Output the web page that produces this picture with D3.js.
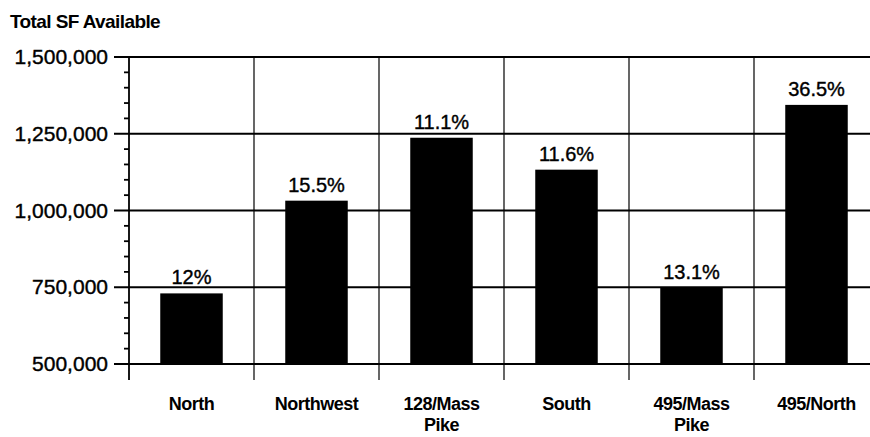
<!DOCTYPE html>
<meta charset="utf-8">
<style>
  body { margin: 0; background: #fff; }
  text { font-family: "Liberation Sans Narrow", "Liberation Sans", Arial, sans-serif; fill: #000; }
</style>
<svg width="870" height="437"></svg>
<script src="https://d3js.org/d3.v7.min.js"></script>
<script>

var regions = ['North', 'Northwest', '128/Mass Pike', 'South', '495/Mass Pike', '495/North'];
var sfAvailable = [730000, 1032000, 1237000, 1133000, 748000, 1344000];
var pctLabels = ['12%', '15.5%', '11.1%', '11.6%', '13.1%', '36.5%'];
var yTicks = [500000, 750000, 1000000, 1250000, 1500000];

var svg = d3.select("svg");

var plotLeft = 129, plotTop = 57, plotBottom = 364, band = 125;

var x = d3.scaleBand()
    .domain(regions)
    .range([plotLeft, plotLeft + band * regions.length])
    .paddingInner(0.5)
    .paddingOuter(0.25);

var y = d3.scaleLinear()
    .domain([500000, 1500000])
    .range([plotBottom, plotTop]);

// horizontal grid
svg.append("g")
  .selectAll("line")
  .data(yTicks)
  .enter().append("line")
  .attr("x1", plotLeft - 15)
  .attr("x2", 870)
  .attr("y1", d => y(d))
  .attr("y2", d => y(d))
  .attr("stroke", "#000")
  .attr("stroke-width", 1.8);

// minor ticks
svg.append("g")
  .selectAll("line")
  .data(d3.range(550000, 1500000, 50000).filter(d => d % 250000 != 0))
  .enter().append("line")
  .attr("x1", plotLeft - 5)
  .attr("x2", plotLeft)
  .attr("y1", d => y(d))
  .attr("y2", d => y(d))
  .attr("stroke", "#000")
  .attr("stroke-width", 1.8);

// vertical band dividers
svg.append("g")
  .selectAll("line")
  .data(d3.range(regions.length + 1))
  .enter().append("line")
  .attr("x1", i => plotLeft + i * band)
  .attr("x2", i => plotLeft + i * band)
  .attr("y1", plotTop)
  .attr("y2", plotBottom + 16)
  .attr("stroke", "#000")
  .attr("stroke-width", i => i == 0 ? 1.8 : 1.2);

// bars
svg.append("g")
  .selectAll("rect")
  .data(regions)
  .enter().append("rect")
  .attr("x", d => x(d))
  .attr("width", x.bandwidth())
  .attr("y", (d, i) => y(sfAvailable[i]))
  .attr("height", (d, i) => plotBottom - y(sfAvailable[i]))
  .attr("fill", "#000");

// value labels
svg.append("g")
  .selectAll("text")
  .data(regions)
  .enter().append("text")
  .attr("x", d => x(d) + x.bandwidth() / 2)
  .attr("y", (d, i) => y(sfAvailable[i]) - 9)
  .attr("text-anchor", "middle")
  .attr("font-size", 20)
  .attr("stroke", "#000")
  .attr("stroke-width", 0.4)
  .text((d, i) => pctLabels[i]);

// y tick labels
svg.append("g")
  .selectAll("text")
  .data(yTicks)
  .enter().append("text")
  .attr("x", 108)
  .attr("y", d => y(d) + 7)
  .attr("text-anchor", "end")
  .attr("font-size", 21)
  .attr("stroke", "#000")
  .attr("stroke-width", 0.4)
  .text(d => d3.format(",")(d));

// category labels
var cat = svg.append("g")
  .selectAll("text")
  .data(regions)
  .enter().append("text")
  .attr("text-anchor", "middle")
  .attr("font-size", 18)
  .attr("font-weight", "bold")
  .attr("letter-spacing", -0.5)
  .attr("y", 410);

cat.each(function(d) {
  var t = d3.select(this);
  var cx = x(d) + x.bandwidth() / 2;
  var parts = d.indexOf('Mass Pike') >= 0 ? [d.replace(' Pike', ''), 'Pike'] : [d];
  parts.forEach(function(p, k) {
    t.append("tspan").attr("x", cx).attr("dy", k == 0 ? 0 : 21).text(p);
  });
});

// title
svg.append("text")
  .attr("x", 10)
  .attr("y", 28)
  .attr("font-size", 19)
  .attr("font-weight", "bold")
  .attr("letter-spacing", -0.6)
  .text("Total SF Available");

</script>
